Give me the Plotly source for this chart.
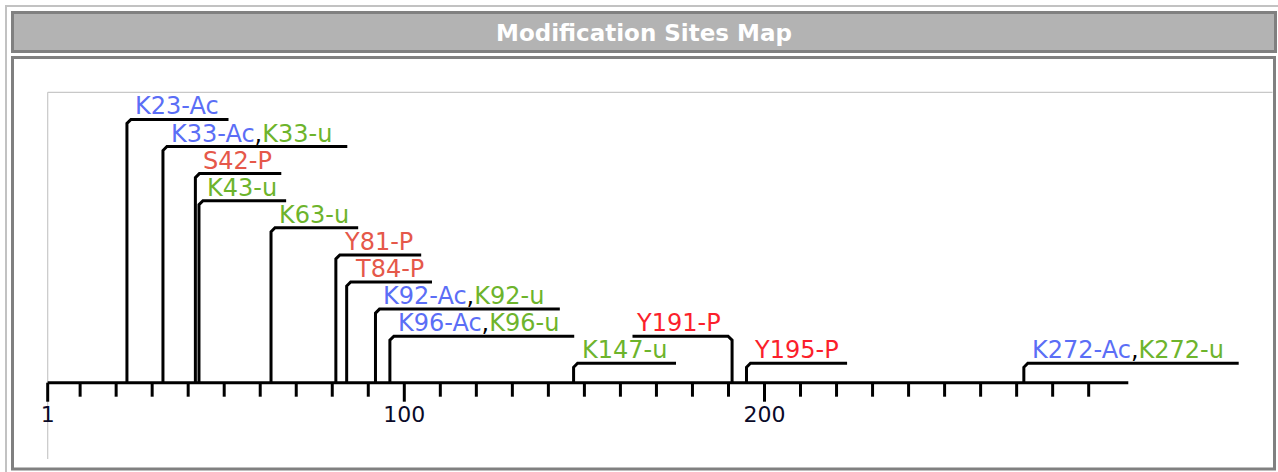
import plotly.graph_objects as go

# ---------------- data ----------------
site_positions = [23, 33, 42, 43, 63, 81, 84, 92, 96, 147, 191, 195, 272]
site_residues = ["K", "K", "S", "K", "K", "Y", "T", "K", "K", "K", "Y", "Y", "K"]
site_mods = [["Ac"], ["Ac", "u"], ["P"], ["u"], ["u"], ["P"], ["P"],
             ["Ac", "u"], ["Ac", "u"], ["u"], ["P"], ["P"], ["Ac", "u"]]
site_levels = [10, 9, 8, 7, 6, 5, 4, 3, 2, 1, 2, 1, 1]
site_sides = ["right", "right", "right", "right", "right", "right", "right",
              "right", "right", "right", "left", "right", "right"]
seq_length = 301
major_ticks = [1, 100, 200]
major_tick_labels = ["1", "100", "200"]
minor_ticks = [t for t in range(10, 300, 10) if t not in major_ticks]
title_text = "Modification Sites Map"

# ---------------- style ----------------
W, H = 1278, 472
X0_PX, PPU = 47.7, 3.602          # pixel of residue 1, pixels per residue
AXIS_PX, ROW_PX = 382.7, 27.1     # pixel row of the sequence axis, row height
FIRST_ROW = 19.4 / ROW_PX
LABEL_FONT = 24
TICK_FONT = 22
mod_colors = {"Ac": "#5b6ef6", "u": "#6db42c", "P": "#e5584a"}
label_color_override = {"Y191-P": "#fb1f2c", "Y195-P": "#fb1f2c"}
FONT = "DejaVu Sans"

# approximate DejaVu Sans advance widths (em)
adv = {"K": .656, "A": .684, "S": .635, "T": .611, "Y": .611, "P": .603,
       "c": .550, "u": .634, "-": .361, ",": .318}
for d in "0123456789":
    adv[d] = .636


def text_px(s, size):
    return sum(adv.get(ch, .6) for ch in s) * size + 5 * s.count(",")


x_r0 = 1 - X0_PX / PPU
x_r1 = x_r0 + W / PPU
y_r0 = -(H - AXIS_PX) / ROW_PX
y_r1 = AXIS_PX / ROW_PX

fig = go.Figure()

# sequence axis with ticks
ax_x, ax_y = [1, seq_length, None], [0, 0, None]
for t in minor_ticks:
    ax_x += [t, t, None]
    ax_y += [0, -14 / ROW_PX, None]
for t in major_ticks:
    ax_x += [t, t, None]
    ax_y += [0, -19 / ROW_PX, None]
fig.add_trace(go.Scatter(x=ax_x, y=ax_y, mode="lines",
                         line=dict(color="black", width=3),
                         hoverinfo="skip", showlegend=False))

fig.add_trace(go.Scatter(x=major_ticks, y=[-34 / ROW_PX] * len(major_ticks),
                         mode="text", text=major_tick_labels,
                         textposition="middle center",
                         textfont=dict(family=FONT, size=TICK_FONT, color="#0a0a28"),
                         hoverinfo="skip", showlegend=False))

# site leader lines and labels
dx, dy = 4 / PPU, 4 / ROW_PX
sx, sy = [], []
annotations = []
for pos, res, mods, lvl, side in zip(site_positions, site_residues, site_mods,
                                     site_levels, site_sides):
    yl = FIRST_ROW + (lvl - 1)
    names = [f"{res}{pos}-{m}" for m in mods]
    full = ",".join(names)
    w = text_px(full, LABEL_FONT)
    parts = []
    for n, m in zip(names, mods):
        col = label_color_override.get(n, mod_colors[m])
        parts.append(f'<span style="color:{col}">{n}</span>')
    html = '<span style="color:black">,</span>'.join(parts)
    if side == "right":
        xe = pos + (8 + w + 9) / PPU
        sx += [pos, pos, pos + dx, xe, None]
        sy += [0, yl - dy, yl, yl, None]
        annotations.append(dict(x=pos, y=yl, xref="x", yref="y", text=html,
                                showarrow=False, xanchor="left", yanchor="bottom",
                                xshift=6, yshift=-3,
                                font=dict(family=FONT, size=LABEL_FONT)))
    else:
        xs = pos - (10 + w + 6) / PPU
        sx += [xs, pos - dx, pos, pos, None]
        sy += [yl, yl, yl - dy, 0, None]
        annotations.append(dict(x=pos, y=yl, xref="x", yref="y", text=html,
                                showarrow=False, xanchor="right", yanchor="bottom",
                                xshift=-9, yshift=-3,
                                font=dict(family=FONT, size=LABEL_FONT)))
fig.add_trace(go.Scatter(x=sx, y=sy, mode="lines",
                         line=dict(color="black", width=3),
                         hoverinfo="skip", showlegend=False))


def px(x):
    return x / W


def py(y):
    return 1 - y / H


shapes = [
    dict(type="rect", xref="paper", yref="paper", x0=px(6), y0=py(6),
         x1=px(W + 20), y1=py(H + 20), line=dict(color="#c2c2c2", width=2),
         fillcolor="rgba(0,0,0,0)", layer="below"),
    dict(type="rect", xref="paper", yref="paper", x0=px(12.5), y0=py(12.5),
         x1=px(1275.5), y1=py(51.5), line=dict(color="#808080", width=3),
         fillcolor="#b3b3b3", layer="below"),
    dict(type="rect", xref="paper", yref="paper", x0=px(12.5), y0=py(57.5),
         x1=px(1274.5), y1=py(469), line=dict(color="#808080", width=3),
         fillcolor="white", layer="below"),
    dict(type="line", xref="paper", yref="paper", x0=px(47.7), y0=py(92.3),
         x1=px(1272.5), y1=py(92.3), line=dict(color="#c8c8c8", width=1.2),
         layer="below"),
    dict(type="line", xref="paper", yref="paper", x0=px(47.7), y0=py(92.3),
         x1=px(47.7), y1=py(459), line=dict(color="#c8c8c8", width=1.2),
         layer="below"),
]

annotations.append(dict(x=px(644), y=py(33), xref="paper", yref="paper",
                        text=f"<b>{title_text}</b>", showarrow=False,
                        xanchor="center", yanchor="middle",
                        font=dict(family=FONT, size=23, color="white")))

fig.update_layout(
    width=W, height=H, autosize=False,
    margin=dict(l=0, r=0, t=0, b=0, pad=0),
    paper_bgcolor="white", plot_bgcolor="rgba(0,0,0,0)",
    xaxis=dict(range=[x_r0, x_r1], visible=False, fixedrange=True),
    yaxis=dict(range=[y_r0, y_r1], visible=False, fixedrange=True),
    shapes=shapes, annotations=annotations, showlegend=False,
)

fig.write_html("out.html",
               config={"displayModeBar": False, "staticPlot": True},
               post_script="document.body.style.margin='0';"
                           "document.body.style.overflow='hidden';")
